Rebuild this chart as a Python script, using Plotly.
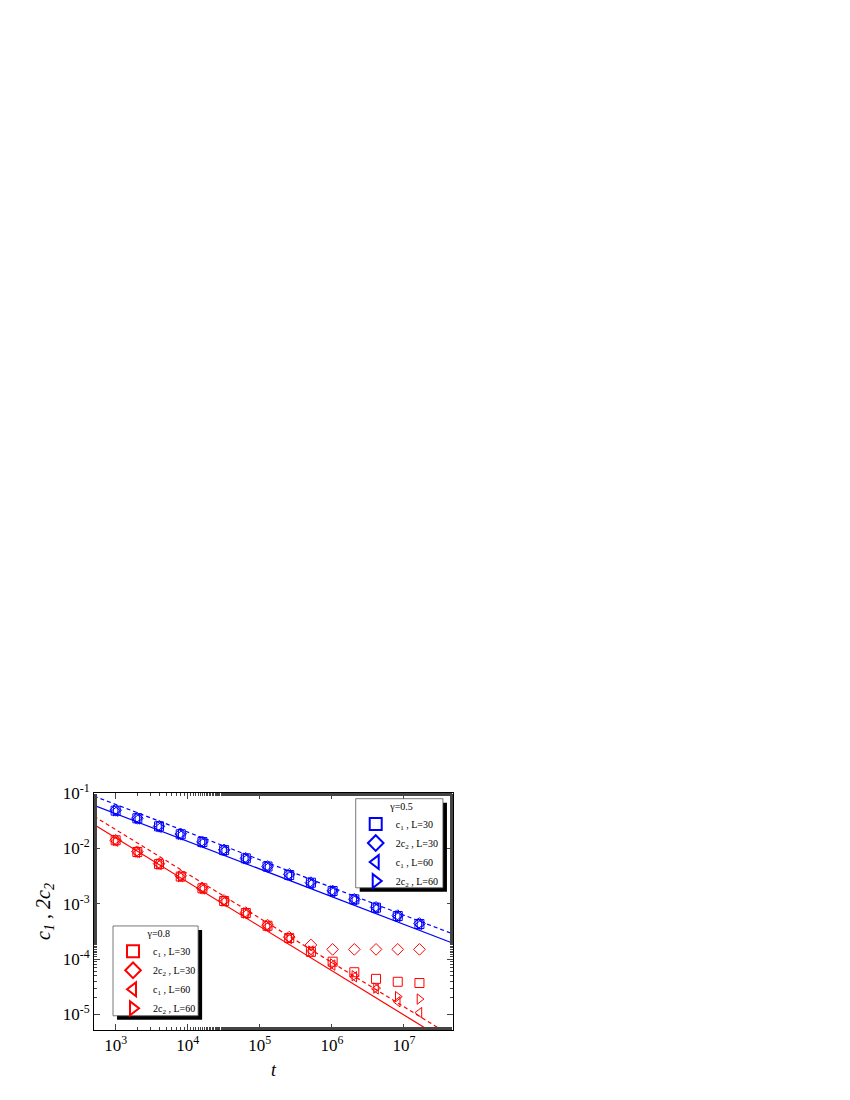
import plotly.graph_objects as go

t = [1000*2**k for k in range(15)]
blue_c1_L30 = [0.048,0.035,0.025,0.018,0.013,0.0093,0.0066,0.0047,0.0033,0.0024,0.0017,0.0012,0.00085,0.0006,0.00043]
blue_2c2_L30 = [0.049,0.035,0.025,0.0182,0.0131,0.0094,0.0066,0.0047,0.0034,0.0024,0.0017,0.0012,0.00086,0.00061,0.00044]
blue_c1_L60 = [0.047,0.034,0.024,0.0175,0.0127,0.0091,0.0064,0.0046,0.0032,0.0023,0.00165,0.00118,0.00083,0.00059,0.00042]
blue_2c2_L60 = [0.048,0.035,0.025,0.018,0.013,0.0093,0.0066,0.0047,0.0033,0.0024,0.0017,0.0012,0.00085,0.0006,0.00043]
red_c1_L30 = [0.014,0.0086,0.0052,0.0031,0.0019,0.00112,0.00068,0.0004,0.00024,0.000135,0.00009,0.000058,0.000044,0.000039,0.000037]
red_2c2_L30 = [0.014,0.0087,0.0053,0.0032,0.0019,0.00115,0.00069,0.00041,0.00025,0.00018,0.00015,0.00015,0.00015,0.00015,0.00015]
red_c1_L60 = [0.0135,0.0084,0.0051,0.0031,0.00185,0.0011,0.00066,0.00039,0.000235,0.00014,0.000078,0.000048,0.000029,0.000017,0.0000108]
red_2c2_L60 = [0.014,0.0086,0.0052,0.0031,0.0019,0.00112,0.00068,0.0004,0.00024,0.00014,0.000082,0.00005,0.00003,0.000021,0.000019]
fit_t = [500, 4.5e7]
blue_solid = [0.06, 0.06*(4.5e7/500)**-0.5]
blue_dash = [0.088, 0.088*(4.5e7/500)**-0.5]
red_solid = [0.027, 0.027*(4.5e7/500)**-0.8]
red_dash = [0.038, 0.038*(4.5e7/500)**-0.8]
xticks = [1e3,1e4,1e5,1e6,1e7]
xtext = ["10<sup>3</sup>","10<sup>4</sup>","10<sup>5</sup>","10<sup>6</sup>","10<sup>7</sup>"]
yticks = [1e-5,1e-4,1e-3,1e-2,1e-1]
ytext = ["10<sup>-5</sup>","10<sup>-4</sup>","10<sup>-3</sup>","10<sup>-2</sup>","10<sup>-1</sup>"]

BLUE, RED = "#0000ff", "#ff0000"
fig = go.Figure()
for y, c, d in [(blue_solid, BLUE, "solid"), (blue_dash, BLUE, "4px,3px"), (red_solid, RED, "solid"), (red_dash, RED, "4px,3px")]:
    fig.add_trace(go.Scatter(x=fit_t, y=y, mode="lines", line=dict(color=c, width=1.2, dash=d), showlegend=False))

syms = ["square-open", "diamond-open", "triangle-left-open", "triangle-right-open"]
names = ["c<sub>1</sub> , L=30", "2c<sub>2</sub> , L=30", "c<sub>1</sub> , L=60", "2c<sub>2</sub> , L=60"]
for ys, c, lg in [([blue_c1_L30, blue_2c2_L30, blue_c1_L60, blue_2c2_L60], BLUE, "legend"),
                  ([red_c1_L30, red_2c2_L30, red_c1_L60, red_2c2_L60], RED, "legend2")]:
    for y, s, n in zip(ys, syms, names):
        fig.add_trace(go.Scatter(x=t, y=y, mode="markers", name=n, legend=lg,
                                 marker=dict(symbol=s, size=9, color=c, line=dict(width=1, color=c))))

def box(x0, x1, y0, y1):
    dx, dy = 4/359, 4/237
    fig.add_shape(type="rect", xref="paper", yref="paper", x0=x0+dx, x1=x1+dx, y0=y0-dy, y1=y1-dy,
                  fillcolor="black", line=dict(width=0), layer="above")
    fig.add_shape(type="rect", xref="paper", yref="paper", x0=x0, x1=x1, y0=y0, y1=y1,
                  fillcolor="white", line=dict(color="#555", width=0.8), layer="above")
box(0.729, 0.972, 0.600, 0.976)
box(0.053, 0.290, 0.060, 0.439)

lfont = dict(family="Liberation Serif", size=10, color="black")
fig.update_layout(
    width=850, height=1100, plot_bgcolor="white", paper_bgcolor="white",
    margin=dict(l=86, r=405, t=785, b=78),
    font=dict(family="Liberation Serif", color="black"),
    legend=dict(x=0.729, y=0.985, xanchor="left", yanchor="top", bgcolor="rgba(0,0,0,0)",
                font=lfont, title=dict(text="             γ=0.5", font=lfont), itemwidth=30,
                tracegroupgap=0, itemsizing="constant"),
    legend2=dict(x=0.053, y=0.448, xanchor="left", yanchor="top", bgcolor="rgba(0,0,0,0)",
                 font=lfont, title=dict(text="             γ=0.8", font=lfont), itemwidth=30,
                 tracegroupgap=0, itemsizing="constant"),
)
fig.update_xaxes(type="log", range=[2.70, 7.68], tickvals=xticks, ticktext=xtext, ticks="inside",
                 ticklen=6, mirror="allticks", showline=True, linecolor="black", linewidth=1, showgrid=False,
                 tickfont=dict(size=17), minor=dict(ticks="inside", ticklen=3, tickwidth=0.6, showgrid=False),
                 title=dict(text="<i>t</i>", font=dict(size=18), standoff=8))
fig.update_yaxes(type="log", range=[-5.28, -1.0], tickvals=yticks, ticktext=ytext, ticks="inside",
                 ticklen=6, mirror="allticks", showline=True, linecolor="black", linewidth=1, showgrid=False,
                 tickfont=dict(size=17), minor=dict(ticks="inside", ticklen=3, tickwidth=0.6, showgrid=False),
                 title=dict(text="<i>c<sub>1</sub> , 2c<sub>2</sub></i>", font=dict(size=20), standoff=6))
fig.write_html("out.html")
